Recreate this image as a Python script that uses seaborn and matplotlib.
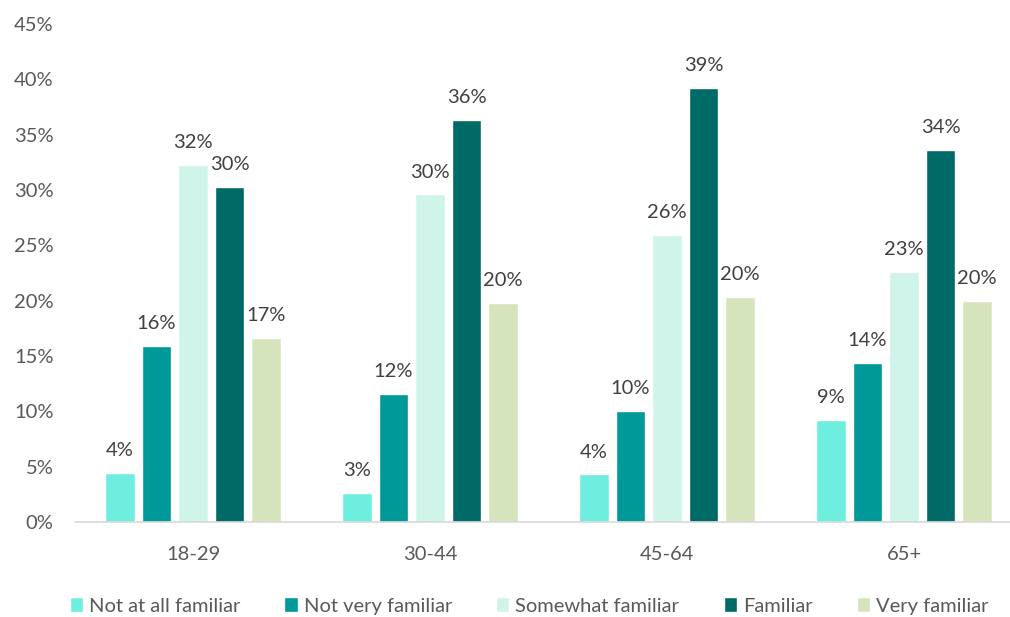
import pandas as pd
import matplotlib.pyplot as plt
import seaborn as sns

age_groups = ['18-29', '30-44', '45-64', '65+']
levels = ['Not at all familiar', 'Not very familiar', 'Somewhat familiar', 'Familiar', 'Very familiar']

not_at_all = [4.4, 2.6, 4.3, 9.2]
not_very = [15.9, 11.6, 10.0, 14.4]
somewhat = [32.3, 29.6, 25.9, 22.6]
familiar = [30.3, 36.3, 39.2, 33.6]
very = [16.6, 19.8, 20.3, 20.0]

colors = ['#6EEEDF', '#009999', '#CFF5EA', '#006B66', '#D6E4BC']

rows = []
for lvl, vals in zip(levels, [not_at_all, not_very, somewhat, familiar, very]):
    for age, v in zip(age_groups, vals):
        rows.append({'age': age, 'level': lvl, 'pct': v})
df = pd.DataFrame(rows)

sns.set_style('white')
plt.rcParams['font.family'] = ['Lato', 'DejaVu Sans']

fig = plt.figure(figsize=(10.1, 6.17), dpi=100)
ax = fig.add_axes([74.5 / 1010, 95 / 617, 948 / 1010, 498 / 617])

sns.barplot(data=df, x='age', y='pct', hue='level', hue_order=levels,
            palette=colors, saturation=1, width=0.77, gap=0.2,
            errorbar=None, ax=ax)

for c in ax.containers:
    ax.bar_label(c, fmt='{:.0f}%', padding=10, fontsize=14.5, color='#404040')

ax.set_ylim(0, 45)
ax.set_xlim(-0.5, 3.5)
ax.set_yticks(range(0, 46, 5))
ax.set_yticklabels([f'{t}%' for t in range(0, 46, 5)])
ax.tick_params(axis='both', labelsize=14.5, colors='#595959', length=0)
ax.tick_params(axis='x', pad=17)
ax.tick_params(axis='y', pad=15)
ax.set_xlabel('')
ax.set_ylabel('')
for s in ['top', 'right', 'left']:
    ax.spines[s].set_visible(False)
ax.spines['bottom'].set_color('#D9D9D9')
ax.spines['bottom'].set_linewidth(1.2)

handles, labels = ax.get_legend_handles_labels()
ax.legend(handles, labels, loc='center', bbox_to_anchor=(529 / 1010, 11 / 617),
          bbox_transform=fig.transFigure, ncol=5, frameon=False,
          fontsize=14.5, labelcolor='#595959', handlelength=0.65, handleheight=0.75,
          handletextpad=0.3, columnspacing=2.2)

fig.savefig('out.png', dpi=100)
